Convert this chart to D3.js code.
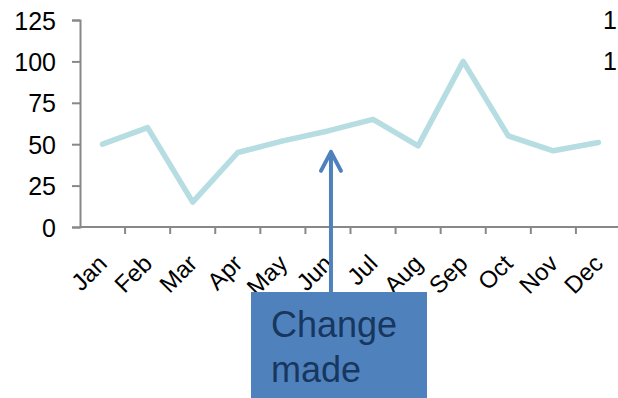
<!DOCTYPE html>
<html>
<head>
<meta charset="utf-8">
<script src="https://cdn.jsdelivr.net/npm/d3@7"></script>
<style>
  html, body { margin: 0; padding: 0; background: #fff; }
  svg { display: block; font-family: "Liberation Sans", Arial, sans-serif; }
</style>
</head>
<body>
<svg id="chart" width="618" height="398"></svg>
<script>
// Monthly series
const months = ["Jan","Feb","Mar","Apr","May","Jun","Jul","Aug","Sep","Oct","Nov","Dec"];
const values = [50, 60, 15, 45, 52, 58, 65, 49, 100, 55, 46, 51];
const yTicks = [0, 25, 50, 75, 100, 125];
const calloutLines = ["Change", "made"];
const calloutMonth = "Jun";
const calloutValue = 46;

const svg = d3.select("#chart");
const axisColor = "#888888";
const fontFamily = "'Liberation Sans', Arial, sans-serif";

const x = d3.scaleBand().domain(months).range([80, 621]);
const y = d3.scaleLinear().domain([0, 125]).range([227, 20]);

// Y axis
const yAxis = svg.append("g")
  .attr("transform", "translate(80,0)")
  .call(d3.axisLeft(y).tickValues(yTicks).tickSize(8).tickPadding(16));
yAxis.attr("font-size", 25).attr("font-family", fontFamily);
yAxis.select(".domain").attr("stroke", axisColor).attr("stroke-width", 2);
yAxis.selectAll(".tick line").attr("stroke", axisColor).attr("stroke-width", 2);
yAxis.selectAll(".tick text").attr("fill", "#000").attr("dy", "0.36em");

// X axis: ticks on band boundaries
const xAxis = svg.append("g").attr("transform", "translate(0,227)");
xAxis.append("line")
  .attr("x1", 80).attr("x2", 618).attr("y1", 0).attr("y2", 0)
  .attr("stroke", axisColor).attr("stroke-width", 2);
xAxis.selectAll("line.tk")
  .data(months.slice(1))
  .join("line")
  .attr("class", "tk")
  .attr("x1", d => x(d)).attr("x2", d => x(d))
  .attr("y1", 0).attr("y2", 7)
  .attr("stroke", axisColor).attr("stroke-width", 2);
xAxis.selectAll("text")
  .data(months)
  .join("text")
  .attr("transform", d => `translate(${x(d) + x.bandwidth() / 2 + 6},38) rotate(-45)`)
  .attr("text-anchor", "end")
  .attr("font-size", 24)
  .attr("fill", "#000")
  .text(d => d);

// Series line
const line = d3.line()
  .x((d, i) => x(months[i]) + x.bandwidth() / 2)
  .y(d => y(d));
svg.append("path")
  .datum(values)
  .attr("d", line)
  .attr("fill", "none")
  .attr("stroke", "#B6DDE1")
  .attr("stroke-width", 5.5)
  .attr("stroke-linejoin", "round")
  .attr("stroke-linecap", "round");

// Labels of a neighbouring axis at the right edge
svg.selectAll("text.right")
  .data([125, 100])
  .join("text")
  .attr("class", "right")
  .attr("x", 603)
  .attr("y", d => y(d))
  .attr("dy", "0.36em")
  .attr("font-size", 25)
  .attr("fill", "#000")
  .text("1");

// Callout arrow and box
const blue = "#4F81BD";
const ax = x(calloutMonth) + x.bandwidth() / 2 + 3;
const tipY = y(calloutValue);
svg.append("line")
  .attr("x1", ax).attr("x2", ax)
  .attr("y1", tipY + 2).attr("y2", 294)
  .attr("stroke", blue).attr("stroke-width", 4);
svg.append("path")
  .attr("d", `M${ax - 10},${tipY + 20} L${ax},${tipY + 1} L${ax + 10},${tipY + 20}`)
  .attr("fill", "none")
  .attr("stroke", blue)
  .attr("stroke-width", 4)
  .attr("stroke-linecap", "round")
  .attr("stroke-linejoin", "round");

svg.append("rect")
  .attr("x", 251).attr("y", 292)
  .attr("width", 176).attr("height", 110)
  .attr("fill", blue);
svg.selectAll("text.callout")
  .data(calloutLines)
  .join("text")
  .attr("class", "callout")
  .attr("x", 271)
  .attr("y", (d, i) => 337 + i * 45)
  .attr("font-size", 36)
  .attr("fill", "#17375E")
  .text(d => d);
</script>
</body>
</html>
